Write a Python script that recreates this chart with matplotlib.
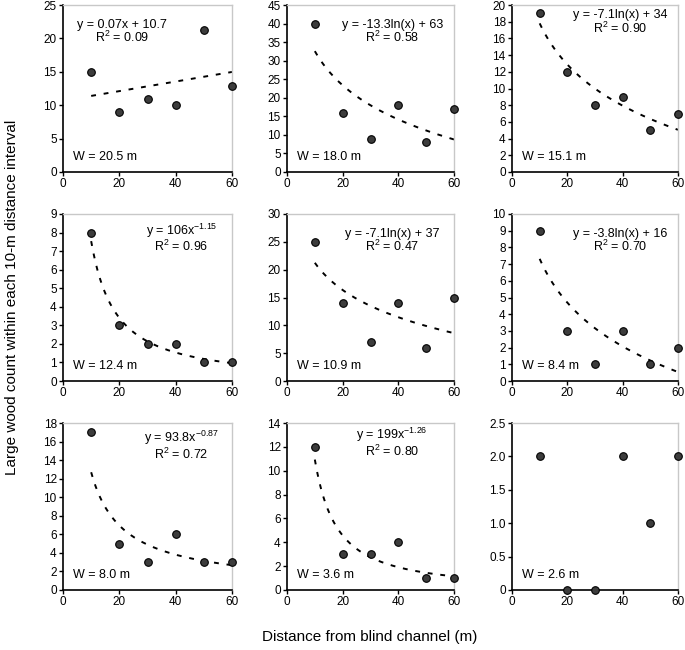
import numpy as np
import matplotlib
matplotlib.use('Agg')
import matplotlib.pyplot as plt

plt.rcParams['font.family'] = ['Liberation Sans', 'DejaVu Sans']
plt.rcParams['mathtext.fontset'] = 'custom'
plt.rcParams['mathtext.rm'] = 'Liberation Sans'
plt.rcParams['mathtext.it'] = 'Liberation Sans'

# distance bins (m)
distance = [10, 20, 30, 40, 50, 60]

# large wood counts for each channel
count_w205 = [15, 9, 11, 10, 21.2, 12.9]
count_w180 = [40, 16, 9, 18, 8, 17]
count_w151 = [19, 12, 8, 9, 5, 7]
count_w124 = [8, 3, 2, 2, 1, 1]
count_w109 = [25, 14, 7, 14, 6, 15]
count_w084 = [9, 3, 1, 3, 1, 2]
count_w080 = [17, 5, 3, 6, 3, 3]
count_w036 = [12, 3, 3, 4, 1, 1]
count_w026 = [2, 0, 0, 2, 1, 2]

widths = ['W = 20.5 m', 'W = 18.0 m', 'W = 15.1 m', 'W = 12.4 m', 'W = 10.9 m',
          'W = 8.4 m', 'W = 8.0 m', 'W = 3.6 m', 'W = 2.6 m']
fit_types = ['linear', 'log', 'log', 'power', 'log', 'log', 'power', 'power', None]
equations = ['y = 0.07x + 10.7', 'y = -13.3ln(x) + 63', 'y = -7.1ln(x) + 34',
             r'y = 106x$^{\mathregular{-1.15}}$', 'y = -7.1ln(x) + 37', 'y = -3.8ln(x) + 16',
             r'y = 93.8x$^{\mathregular{-0.87}}$', r'y = 199x$^{\mathregular{-1.26}}$', None]
r2_labels = ['0.09', '0.58', '0.90', '0.96', '0.47', '0.70', '0.72', '0.80', None]
y_max = [25, 45, 20, 9, 30, 10, 18, 14, 2.5]
y_step = [5, 5, 2, 1, 5, 1, 2, 2, 0.5]

counts = [count_w205, count_w180, count_w151, count_w124, count_w109,
          count_w084, count_w080, count_w036, count_w026]

# baseline of R2 line and equation line (axes fraction)
eq_x = [0.35, 0.63, 0.65, 0.70, 0.63, 0.65, 0.70, 0.63, None]
r2_y = [0.777, 0.777, 0.832, 0.777, 0.777, 0.777, 0.787, 0.802, None]

fig = plt.figure(figsize=(6.85, 6.5), dpi=100)

col_x = [63 / 685, 287 / 685, 512 / 685]
col_w = [169 / 685, 167 / 685, 166 / 685]
row_y = [(650 - 172) / 650, (650 - 381) / 650, (650 - 590) / 650]
row_h = 167 / 650

for i in range(9):
    r, c = divmod(i, 3)
    ax = fig.add_axes([col_x[c], row_y[r], col_w[c], row_h])
    x = np.array(distance, dtype=float)
    y = np.array(counts[i], dtype=float)

    # trend line fitted to the points
    xs = np.linspace(10, 60, 200)
    if fit_types[i] == 'linear':
        b, a = np.polyfit(x, y, 1)
        ax.plot(xs, b * xs + a, color='black', lw=1.4, ls=(0, (2.5, 4)))
    elif fit_types[i] == 'log':
        b, a = np.polyfit(np.log(x), y, 1)
        ax.plot(xs, b * np.log(xs) + a, color='black', lw=1.4, ls=(0, (2.5, 4)))
    elif fit_types[i] == 'power':
        b, a = np.polyfit(np.log(x), np.log(y), 1)
        ax.plot(xs, np.exp(a) * xs ** b, color='black', lw=1.4, ls=(0, (2.5, 4)))

    ax.scatter(x, y, s=30, facecolor='#3c3c3c', edgecolor='black', lw=0.8,
               zorder=3, clip_on=False)

    ax.set_xlim(0, 60)
    ax.set_ylim(0, y_max[i])
    ax.set_xticks([0, 20, 40, 60])
    ticks = np.arange(0, y_max[i] + y_step[i] / 2, y_step[i])
    ax.set_yticks(ticks)
    if i == 8:
        ax.set_yticklabels(['0'] + ['%.1f' % t for t in ticks[1:]])

    for side in ['top', 'right']:
        ax.spines[side].set_color('#c8c8c8')
        ax.spines[side].set_linewidth(1.0)
    for side in ['left', 'bottom']:
        ax.spines[side].set_color('black')
        ax.spines[side].set_linewidth(1.2)
    ax.tick_params(direction='out', length=3, width=1, labelsize=8.5, pad=1.5)

    if equations[i] is not None:
        gap = 0.1 if fit_types[i] == 'power' else 0.088
        ax.text(eq_x[i], r2_y[i] + gap, equations[i], transform=ax.transAxes,
                ha='center', va='baseline', fontsize=9)
        ax.text(eq_x[i], r2_y[i], r'R$^{\mathregular{2}}$ = ' + r2_labels[i],
                transform=ax.transAxes, ha='center', va='baseline', fontsize=9)
    ax.text(0.06, 0.09, widths[i], transform=ax.transAxes, ha='left', va='center', fontsize=9)

fig.text(0.018, 0.543, 'Large wood count within each 10-m distance interval',
         rotation=90, ha='center', va='center', fontsize=11)
fig.text(0.54, 0.02, 'Distance from blind channel (m)', ha='center', va='center', fontsize=11)

fig.savefig('out.png', dpi=100)
